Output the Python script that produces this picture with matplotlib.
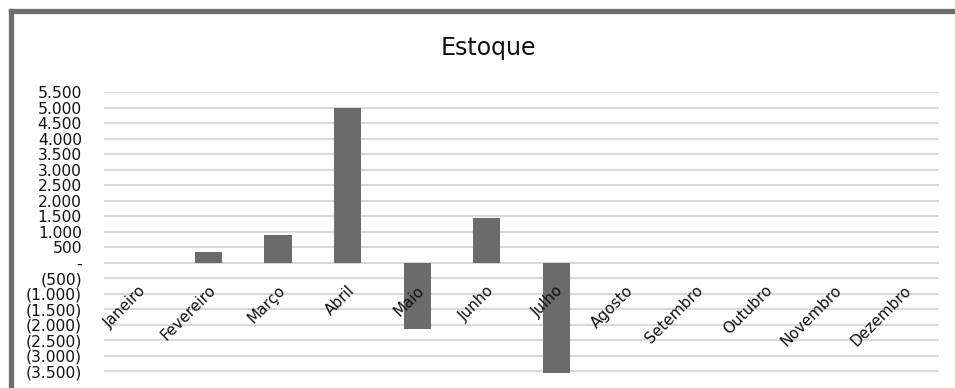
import numpy as np
import matplotlib.pyplot as plt
from matplotlib.lines import Line2D

plt.rcParams['font.family'] = ['DejaVu Sans']

# Monthly stock balance
meses = ["Janeiro", "Fevereiro", "Março", "Abril", "Maio", "Junho",
         "Julho", "Agosto", "Setembro", "Outubro", "Novembro", "Dezembro"]
estoque = [0, 350, 900, 5000, -2150, 1450, -3560, 0, 0, 0, 0, 0]

y_ticks = np.arange(-3500, 5501, 500)

BAR_COLOR = "#6b6b6b"
GRID_COLOR = "#d9d9d9"
TEXT_COLOR = "#111111"


def fmt_contabil(v):
    # accounting style: dot as thousands separator, negatives in parentheses, zero as dash
    if v == 0:
        return "-"
    s = "{:,.0f}".format(abs(v)).replace(",", ".")
    return "({})".format(s) if v < 0 else s


fig = plt.figure(figsize=(9.55, 3.88), dpi=100)
ax = fig.add_axes([0.1089, 0.038, 0.8743, 0.7248])

x = np.arange(len(meses))
ax.bar(x, estoque, width=0.39, color=BAR_COLOR, zorder=3)

ax.set_xlim(-0.5, len(meses) - 0.5)
ax.set_ylim(-3570, 5500)
ax.set_yticks(y_ticks)
ax.set_yticklabels([fmt_contabil(v) for v in y_ticks], fontsize=11.2, color=TEXT_COLOR)
ax.tick_params(axis="y", length=0, pad=16)
ax.set_xticks([])

for v in y_ticks:
    ax.axhline(v, color=GRID_COLOR, lw=1.5, zorder=1)

for s in ax.spines.values():
    s.set_visible(False)

# month labels sit just under the zero line, rotated
for i, m in enumerate(meses):
    ax.text(i + 0.07, -820, m, rotation=45, rotation_mode="anchor",
            ha="right", va="center", fontsize=11, color=TEXT_COLOR, zorder=4)

fig.text(488 / 955, 1 - 48 / 388, "Estoque", ha="center", va="center",
         fontsize=17, color=TEXT_COLOR)

# outer frame of the chart area
fig.add_artist(Line2D([10.5 / 955, 10.5 / 955], [0, 1 - 11 / 388],
                      color="#6e6e6e", lw=3.8, solid_capstyle="projecting"))
fig.add_artist(Line2D([10.5 / 955, 1], [1 - 11 / 388, 1 - 11 / 388],
                      color="#6e6e6e", lw=3.8, solid_capstyle="projecting"))

fig.savefig("out.png", dpi=100)
